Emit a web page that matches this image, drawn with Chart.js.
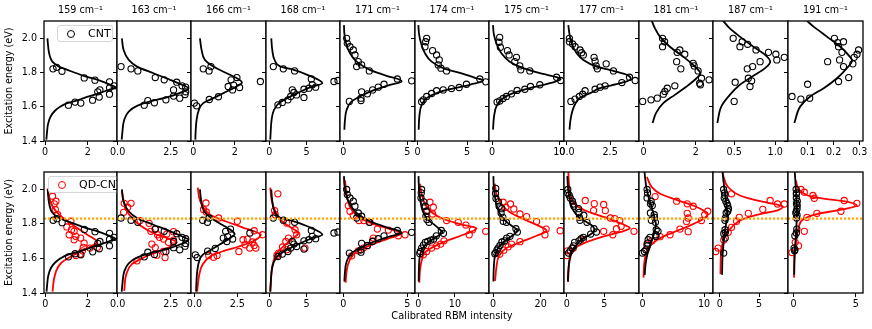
<!DOCTYPE html>
<html>
<head>
<meta charset="utf-8">
<script src="https://cdn.jsdelivr.net/npm/chart.js@4.4.1/dist/chart.umd.min.js"></script>
<style>
  html, body { margin: 0; padding: 0; background: #fff; }
  #fig { position: relative; width: 872px; height: 329px; overflow: hidden; font-family: 'DejaVu Sans', sans-serif; background: #fff; }
  #fig canvas { position: absolute; }
  .ttl { position: absolute; top: 4px; width: 80px; text-align: center; font-size: 9.6px; line-height: 12px; color: #000; z-index: 40; }
  .xlab { position: absolute; top: 310px; left: 352px; width: 200px; text-align: center; font-size: 9.8px; line-height: 12px; color: #000; z-index: 40; }
  .leg { position: absolute; height: 15px; border: 1px solid #d6d6d6; border-radius: 3px; background: rgba(255,255,255,0.85); font-size: 11px; line-height: 15px; color: #000; z-index: 3; }
  .leg .mk { position: absolute; top: 3.5px; left: 8.5px; width: 6px; height: 6px; border: 1px solid; border-radius: 50%; }
  .leg .tx { position: absolute; left: 30px; top: 0; white-space: nowrap; }
</style>
</head>
<body>
<div id="fig"></div>
<script>
// RBM modes (one column each)
const modes = ['159', '163', '166', '168', '171', '174', '175', '177', '181', '187', '191'];

// energy axis (eV)
const yRange = [1.4, 2.1];
const yTicks = [1.4, 1.6, 1.8, 2.0];
const qdLevel = 1.83;

// x ranges and ticks, top row (CNT) and bottom row (QD-CNT)
const topRange = [[-0.05, 3.36], [-0.03, 3.45], [-0.11, 3.5], [-0.44, 9.47], [-0.26, 5.6], [-0.27, 7.21],
                  [-0.45, 10.7], [-0.17, 4.17], [-0.17, 2.66], [0.242, 1.156], [0.0246, 0.313]];
const botRange = [[-0.06, 3.36], [-0.03, 3.45], [-0.2, 4.17], [-0.44, 9.47], [-0.26, 5.6], [-0.9, 19.3],
                  [-1.7, 29.8], [-0.36, 9.6], [-0.58, 11.45], [-0.86, 8.68], [-0.45, 5.57]];
const topTicks = [[0, 2], [0, 2.5], [0, 2], [0, 5], [0, 5], [0, 5], [0, 10], [0, 2.5], [0, 2], [0.5, 1.0], [0.1, 0.2, 0.3]];
const botTicks = [[0, 2], [0, 2.5], [0, 2.5], [0, 5], [0, 5], [0, 10], [0, 20], [0, 5], [0, 10], [0, 5], [0, 5]];

// CNT measured points [intensity, energy]
const cntPts = [
  [[0.37,1.821],[0.54,1.830],[0.79,1.807],[1.83,1.768],[2.33,1.755],[3.01,1.745],[3.22,1.722],[3.01,1.710],[2.56,1.698],[2.46,1.687],[2.53,1.656],[3.01,1.673],[2.22,1.638],[1.67,1.621],[1.40,1.627],[1.09,1.609]],
  [[0.16,1.834],[0.63,1.821],[0.95,1.809],[1.77,1.770],[2.19,1.757],[2.78,1.743],[3.03,1.722],[3.20,1.714],[2.63,1.698],[3.20,1.687],[3.17,1.671],[2.92,1.650],[2.63,1.662],[2.27,1.640],[1.73,1.623],[1.42,1.636],[1.25,1.609]],
  [[0.05,1.621],[0.16,1.605],[0.48,1.821],[0.76,1.809],[0.85,1.834],[0.77,1.642],[1.21,1.658],[1.68,1.718],[1.82,1.757],[1.94,1.726],[2.10,1.770],[2.23,1.712],[1.89,1.698],[3.23,1.747]],
  [[0.54,1.834],[1.88,1.821],[3.39,1.809],[5.63,1.762],[5.76,1.728],[6.21,1.714],[5.31,1.708],[4.64,1.702],[3.08,1.698],[3.30,1.683],[3.66,1.669],[4.64,1.654],[2.86,1.660],[2.50,1.640],[1.75,1.625],[1.16,1.611],[8.66,1.747],[9.20,1.753]],
  [[0.26,1.999],[0.31,1.970],[0.52,1.950],[0.78,1.931],[0.91,1.902],[1.17,1.863],[1.04,1.834],[1.43,1.844],[2.03,1.809],[4.22,1.762],[5.34,1.751],[3.18,1.731],[2.73,1.714],[2.29,1.698],[1.88,1.675],[1.43,1.687],[1.38,1.650],[1.38,1.636],[0.47,1.631]],
  [[0.91,1.999],[0.81,1.979],[0.74,1.950],[1.51,1.927],[1.91,1.902],[2.18,1.873],[2.08,1.844],[2.35,1.825],[2.92,1.809],[6.28,1.762],[6.88,1.745],[4.93,1.731],[4.19,1.712],[3.42,1.706],[2.58,1.698],[1.91,1.693],[1.41,1.677],[0.91,1.660],[0.57,1.640],[0.40,1.629]],
  [[1.14,2.005],[1.04,1.976],[1.24,1.947],[2.29,1.927],[2.54,1.902],[3.63,1.888],[3.38,1.863],[4.13,1.838],[4.28,1.815],[5.62,1.809],[9.60,1.772],[10.2,1.753],[7.11,1.728],[5.72,1.718],[4.88,1.702],[3.73,1.695],[2.89,1.675],[2.14,1.660],[1.64,1.648],[1.14,1.634],[0.75,1.627]],
  [[0.14,1.999],[0.14,1.979],[0.33,1.966],[0.47,1.950],[0.76,1.931],[0.85,1.915],[0.95,1.902],[1.57,1.888],[1.63,1.866],[1.69,1.838],[1.76,1.821],[2.27,1.850],[2.69,1.809],[3.62,1.772],[3.95,1.753],[3.18,1.741],[2.21,1.722],[1.92,1.714],[1.63,1.702],[1.05,1.693],[0.91,1.673],[0.72,1.660],[0.47,1.644],[0.23,1.631]],
  [[0.73,1.999],[0.81,1.979],[0.73,1.950],[1.39,1.931],[1.29,1.917],[1.58,1.906],[1.27,1.863],[1.43,1.821],[1.90,1.853],[1.94,1.838],[2.09,1.809],[2.22,1.766],[2.51,1.757],[2.15,1.737],[2.18,1.728],[1.20,1.722],[0.91,1.708],[0.82,1.689],[0.76,1.673],[0.53,1.650],[0.29,1.640],[-0.03,1.631]],
  [[0.488,1.999],[0.570,1.950],[0.598,1.979],[0.664,1.964],[0.766,1.931],[0.918,1.917],[1.008,1.906],[1.020,1.873],[1.111,1.888],[0.816,1.863],[0.725,1.834],[0.660,1.821],[0.512,1.743],[0.672,1.766],[0.713,1.751],[0.693,1.718],[0.500,1.631]],
  [[0.040,1.660],[0.074,1.644],[0.108,1.650],[0.100,1.731],[0.177,1.863],[0.203,1.999],[0.215,1.974],[0.238,1.979],[0.219,1.950],[0.232,1.917],[0.223,1.873],[0.238,1.834],[0.274,1.850],[0.279,1.888],[0.290,1.906],[0.296,1.931],[0.219,1.747],[0.258,1.770]]
];

// CNT fitted profile, sorted by energy
const cntFit = [
  [[0.06,1.408],[0.09,1.45],[0.14,1.50],[0.26,1.543],[0.45,1.575],[0.70,1.60],[1.04,1.621],[1.50,1.637],[1.81,1.65],[2.43,1.675],[3.05,1.702],[3.29,1.714],[3.05,1.728],[2.59,1.751],[1.81,1.78],[1.04,1.815],[0.65,1.834],[0.34,1.863],[0.19,1.912],[0.11,1.999]],
  [[0.19,1.408],[0.22,1.447],[0.31,1.524],[0.52,1.572],[0.91,1.605],[1.53,1.631],[2.31,1.654],[3.02,1.685],[3.33,1.708],[3.02,1.728],[2.47,1.757],[1.69,1.795],[0.91,1.834],[0.52,1.873],[0.28,1.931],[0.20,1.999]],
  [[0.10,1.408],[0.11,1.447],[0.16,1.524],[0.27,1.582],[0.48,1.621],[0.97,1.650],[1.45,1.679],[2.02,1.714],[2.34,1.741],[2.10,1.766],[1.61,1.795],[0.97,1.834],[0.56,1.873],[0.40,1.931],[0.32,1.999]],
  [[0.13,1.408],[0.18,1.447],[0.31,1.524],[0.63,1.582],[1.29,1.621],[2.41,1.650],[3.75,1.679],[5.54,1.714],[7.10,1.737],[5.09,1.786],[3.30,1.815],[1.52,1.834],[0.71,1.873],[0.40,1.931],[0.27,1.999]],
  [[0.08,1.466],[0.13,1.524],[0.26,1.582],[0.65,1.631],[1.30,1.660],[2.34,1.695],[3.65,1.728],[4.56,1.747],[4.43,1.757],[3.39,1.780],[2.08,1.815],[1.04,1.863],[0.52,1.912],[0.21,1.970],[0.08,2.028],[0.05,2.076]],
  [[0.10,1.466],[0.17,1.543],[0.40,1.611],[0.91,1.650],[1.91,1.679],[3.26,1.702],[5.27,1.728],[6.61,1.753],[5.94,1.766],[4.60,1.791],[2.58,1.825],[1.41,1.863],[0.74,1.912],[0.34,1.970],[0.13,2.028],[0.07,2.076]],
  [[0.15,1.466],[0.30,1.543],[0.75,1.611],[1.64,1.650],[3.13,1.679],[5.62,1.708],[8.61,1.737],[10.2,1.760],[9.60,1.772],[7.61,1.791],[4.63,1.825],[2.64,1.863],[1.39,1.912],[0.65,1.970],[0.25,2.028],[0.15,2.076]],
  [[0.15,1.466],[0.20,1.52],[0.33,1.58],[0.50,1.62],[0.72,1.650],[1.34,1.679],[1.92,1.708],[3.08,1.737],[3.70,1.762],[3.47,1.786],[2.69,1.809],[1.72,1.834],[0.95,1.873],[0.56,1.912],[0.27,1.970],[0.14,2.028],[0.08,2.076]],
  [[0.35,1.505],[0.48,1.563],[0.76,1.621],[1.20,1.669],[1.65,1.718],[2.03,1.766],[2.18,1.795],[2.13,1.809],[1.90,1.844],[1.52,1.892],[1.01,1.950],[0.63,2.009],[0.44,2.057],[0.32,2.101]],
  [[0.295,1.505],[0.344,1.602],[0.447,1.669],[0.570,1.728],[0.734,1.780],[0.877,1.825],[0.939,1.863],[0.877,1.902],[0.734,1.950],[0.570,2.009],[0.447,2.057],[0.365,2.101]],
  [[0.049,1.505],[0.072,1.602],[0.110,1.660],[0.162,1.708],[0.213,1.766],[0.251,1.825],[0.271,1.869],[0.262,1.892],[0.226,1.950],[0.174,2.009],[0.123,2.067],[0.097,2.101]]
];

// QD-CNT measured points [intensity, energy]
const qdPts = [
  [[0.50,1.931],[0.42,1.916],[0.34,1.960],[0.47,1.883],[0.58,1.853],[1.20,1.815],[1.01,1.782],[1.23,1.766],[1.35,1.757],[1.12,1.737],[1.43,1.728],[1.66,1.718],[1.35,1.708],[1.82,1.689],[1.78,1.664],[1.74,1.644],[2.09,1.660],[2.44,1.664],[1.43,1.617],[1.63,1.625]],
  [[0.31,1.919],[0.47,1.896],[0.63,1.919],[0.28,1.867],[1.06,1.819],[1.48,1.803],[1.56,1.757],[1.77,1.770],[1.88,1.737],[1.97,1.722],[2.16,1.712],[2.31,1.741],[2.63,1.755],[2.39,1.693],[2.63,1.706],[1.77,1.663],[2.16,1.640],[2.23,1.605],[1.84,1.619],[0.91,1.586],[1.61,1.683]],
  [[0.67,1.921],[0.53,1.883],[0.69,1.869],[1.41,1.834],[2.50,1.815],[3.48,1.760],[3.97,1.737],[2.83,1.708],[3.08,1.712],[3.38,1.695],[3.48,1.675],[3.58,1.660],[3.22,1.660],[2.59,1.640],[2.95,1.679],[0.83,1.617],[1.12,1.607],[1.32,1.617]],
  [[1.15,1.974],[0.71,1.877],[0.80,1.853],[2.35,1.805],[3.45,1.766],[3.67,1.737],[2.57,1.718],[2.21,1.698],[1.77,1.666],[2.35,1.650],[1.24,1.631],[4.78,1.660],[1.02,1.617]],
  [[0.39,1.906],[0.52,1.873],[0.78,1.848],[1.22,1.819],[1.61,1.819],[2.08,1.809],[2.66,1.770],[3.52,1.764],[4.30,1.731],[4.82,1.737],[2.34,1.718],[2.29,1.702],[1.88,1.673],[1.56,1.660],[1.17,1.644],[0.65,1.615]],
  [[3.18,1.925],[4.09,1.896],[2.45,1.877],[3.91,1.857],[7.73,1.819],[10.9,1.809],[13.0,1.793],[14.8,1.766],[18.4,1.757],[13.9,1.737],[7.0,1.702],[6.09,1.683],[5.0,1.673],[3.64,1.660],[2.27,1.640],[1.36,1.621]],
  [[4.23,1.925],[7.32,1.915],[5.35,1.896],[8.73,1.886],[11.3,1.857],[14.1,1.842],[18.3,1.813],[22.3,1.770],[21.8,1.737],[11.3,1.697],[7.75,1.683],[6.34,1.667],[4.51,1.648],[2.82,1.625],[28.2,1.760]],
  [[2.46,1.935],[3.66,1.917],[4.91,1.912],[5.13,1.877],[3.57,1.877],[5.80,1.834],[6.38,1.830],[7.05,1.819],[7.23,1.786],[6.61,1.772],[4.91,1.757],[6.12,1.737],[8.93,1.757],[2.23,1.708],[0.89,1.660],[0.09,1.644],[0.0,1.617]],
  [[2.04,1.958],[5.54,1.931],[7.26,1.916],[8.23,1.902],[10.6,1.873],[10.1,1.853],[7.26,1.861],[7.42,1.834],[7.15,1.813],[9.57,1.819],[6.08,1.770],[7.42,1.755],[4.46,1.737],[2.85,1.726],[1.51,1.702],[0.70,1.683]],
  [[1.50,1.974],[6.41,1.935],[7.35,1.915],[8.21,1.915],[5.47,1.884],[3.63,1.861],[2.48,1.838],[2.14,1.815],[1.50,1.780],[1.07,1.751],[0.51,1.706],[-0.21,1.660],[-0.51,1.640]],
  [[0.59,1.999],[0.86,1.983],[1.55,1.964],[1.66,1.948],[4.06,1.935],[5.08,1.919],[3.80,1.873],[1.87,1.861],[1.07,1.838],[0.86,1.757],[0.13,1.693],[0.40,1.673],[-0.13,1.634]]
];

// QD-CNT fitted profile, sorted by energy
const qdFit = [
  [[0.34,1.408],[0.39,1.466],[0.50,1.524],[0.73,1.572],[1.20,1.611],[1.66,1.640],[2.13,1.669],[2.44,1.698],[2.28,1.714],[1.97,1.737],[1.50,1.776],[1.04,1.815],[0.65,1.853],[0.34,1.902],[0.19,1.950],[0.11,2.005]],
  [[0.31,1.412],[0.41,1.509],[0.67,1.567],[1.22,1.605],[2.00,1.644],[2.78,1.693],[2.40,1.715],[1.84,1.737],[1.06,1.790],[0.52,1.857],[0.31,1.915],[0.20,1.989]],
  [[0.16,1.408],[0.28,1.505],[0.47,1.563],[0.92,1.611],[1.61,1.640],[2.59,1.669],[3.38,1.698],[3.87,1.737],[3.48,1.757],[2.79,1.780],[1.81,1.815],[0.92,1.853],[0.47,1.902],[0.28,1.950],[0.20,2.009]],
  [[0.13,1.408],[0.22,1.466],[0.44,1.563],[1.02,1.631],[2.12,1.679],[3.23,1.718],[3.89,1.747],[3.00,1.776],[1.68,1.815],[0.80,1.873],[0.35,1.931],[0.13,2.009]],
  [[0.18,1.460],[0.26,1.528],[0.47,1.586],[1.04,1.640],[2.34,1.683],[3.65,1.718],[4.56,1.745],[3.65,1.770],[2.34,1.799],[1.04,1.848],[0.47,1.906],[0.26,1.974],[0.13,2.051]],
  [[0.27,1.460],[0.45,1.528],[0.91,1.586],[1.82,1.634],[4.09,1.667],[7.73,1.702],[12.3,1.737],[15.9,1.774],[11.4,1.799],[6.82,1.828],[3.64,1.867],[1.82,1.915],[0.91,1.974],[0.45,2.032]],
  [[0.85,1.470],[1.41,1.547],[2.54,1.615],[5.63,1.660],[11.3,1.693],[18.3,1.731],[22.5,1.760],[19.0,1.790],[12.7,1.828],[7.04,1.867],[3.52,1.915],[1.41,1.974],[0.70,2.032]],
  [[0.18,1.466],[0.22,1.505],[0.45,1.600],[1.12,1.660],[2.68,1.695],[4.91,1.728],[7.14,1.753],[8.39,1.776],[7.59,1.795],[5.36,1.834],[2.68,1.873],[1.12,1.912],[0.50,1.960],[0.30,2.030],[0.22,2.100]],
  [[0.16,1.489],[0.32,1.586],[0.97,1.660],[2.58,1.712],[5.00,1.751],[7.69,1.790],[9.84,1.828],[10.6,1.857],[10.1,1.873],[8.23,1.906],[5.54,1.939],[2.85,1.974],[1.51,2.012],[0.70,2.071]],
  [[0.09,1.509],[0.13,1.605],[0.34,1.683],[0.85,1.741],[1.71,1.790],[2.99,1.828],[5.13,1.857],[7.26,1.877],[8.03,1.900],[7.26,1.912],[5.13,1.931],[2.56,1.964],[1.07,2.012],[0.34,2.094]],
  [[0.03,1.489],[0.08,1.625],[0.19,1.702],[0.40,1.780],[0.80,1.828],[1.87,1.857],[3.74,1.881],[5.08,1.906],[4.01,1.931],[1.60,1.954],[0.67,1.983],[0.32,2.012],[0.19,2.051]]
];

Chart.defaults.font.family = "'DejaVu Sans', sans-serif";
Chart.defaults.font.size = 9.6;
Chart.defaults.color = '#000';

const fig = document.getElementById('fig');
const colLeft = [44, 117, 191, 266, 340, 415, 489, 564, 639, 713, 788, 863];

const toXY = arr => arr.map(p => ({ x: p[0], y: p[1] }));
const fmtFor = ticks => {
  const dec = ticks.some(v => !Number.isInteger(v)) ? 1 : 0;
  return v => Number(v).toFixed(dec);
};

// white plot area + full box like matplotlib spines
const frame = {
  id: 'frame',
  beforeDraw(chart) {
    const a = chart.chartArea, ctx = chart.ctx;
    ctx.save();
    ctx.fillStyle = '#fff';
    ctx.fillRect(a.left, a.top, a.right - a.left, a.bottom - a.top);
    ctx.restore();
  },
  afterDatasetsDraw(chart) {
    const a = chart.chartArea, ctx = chart.ctx;
    ctx.save();
    ctx.strokeStyle = '#000';
    ctx.lineWidth = 1.3;
    ctx.strokeRect(a.left, a.top, a.right - a.left, a.bottom - a.top);
    ctx.restore();
  }
};

function pointsDs(pts, col) {
  return {
    type: 'scatter', data: toXY(pts), showLine: false, clip: 0,
    pointStyle: 'circle', pointRadius: 3.1, pointBorderWidth: 1.1,
    pointBorderColor: col, pointBackgroundColor: 'rgba(255,255,255,0)', borderColor: col
  };
}

function curveDs(pts, col) {
  return {
    type: 'line', indexAxis: 'y', data: toXY(pts), clip: 0,
    borderColor: col, borderWidth: 1.8, pointRadius: 0, fill: false,
    cubicInterpolationMode: 'monotone'
  };
}

function makePanel(row, c) {
  const isTop = row === 0;
  const plotTop = isTop ? 21 : 172;
  const plotH = isTop ? 120 : 121;
  const axisH = isTop ? 22 : 36;
  const padTop = 10, padRight = 18, yAxisW = 44;
  const w = colLeft[c + 1] - colLeft[c];
  const range = isTop ? topRange[c] : botRange[c];
  const ticks = isTop ? topTicks[c] : botTicks[c];

  const cv = document.createElement('canvas');
  cv.width = w + yAxisW + padRight;
  cv.height = padTop + plotH + axisH;
  cv.style.width = cv.width + 'px';
  cv.style.height = cv.height + 'px';
  cv.style.left = (colLeft[c] - yAxisW) + 'px';
  cv.style.top = (plotTop - padTop) + 'px';
  cv.style.zIndex = 2 + 2 * c;
  fig.appendChild(cv);

  const datasets = [];
  if (!isTop) {
    datasets.push({
      type: 'line', data: [{ x: range[0], y: qdLevel }, { x: range[1], y: qdLevel }], clip: 0,
      borderColor: '#ffa500', borderWidth: 2.2, borderDash: [2.2, 1.8], pointRadius: 0, fill: false
    });
  }
  datasets.push(pointsDs(cntPts[c], '#000'));
  datasets.push(curveDs(cntFit[c], '#000'));
  if (!isTop) {
    datasets.push(pointsDs(qdPts[c], '#ff0000'));
    datasets.push(curveDs(qdFit[c], '#ff0000'));
  }

  const fmt = fmtFor(ticks);
  new Chart(cv, {
    type: 'scatter',
    data: { datasets },
    options: {
      responsive: false,
      animation: false,
      events: [],
      layout: { padding: { top: padTop, right: padRight, left: 0, bottom: 0 } },
      plugins: { legend: { display: false }, tooltip: { enabled: false } },
      scales: {
        x: {
          type: 'linear', min: range[0], max: range[1],
          afterBuildTicks: s => { s.ticks = ticks.map(v => ({ value: v })); },
          afterFit: s => { s.height = axisH; },
          ticks: { callback: v => fmt(v), padding: 1.5, maxRotation: 0, autoSkip: false },
          grid: { drawOnChartArea: false, drawTicks: true, tickLength: 4, tickColor: '#000', tickWidth: 1 },
          border: { display: false }
        },
        y: {
          type: 'linear', min: yRange[0], max: yRange[1],
          afterBuildTicks: s => { s.ticks = yTicks.map(v => ({ value: v })); },
          afterFit: s => { s.width = yAxisW; },
          ticks: { display: c === 0, callback: v => Number(v).toFixed(1), padding: 3 },
          grid: { drawOnChartArea: false, drawTicks: true, tickLength: 4, tickColor: '#000', tickWidth: 1 },
          border: { display: false },
          title: { display: c === 0, text: 'Excitation energy (eV)', padding: { top: 4, bottom: 4 } }
        }
      }
    },
    plugins: [frame]
  });
}

for (let c = 0; c < modes.length; c++) {
  makePanel(0, c);
  makePanel(1, c);
  const t = document.createElement('div');
  t.className = 'ttl';
  t.textContent = modes[c] + ' cm\u207B\u00B9';
  t.style.left = ((colLeft[c] + colLeft[c + 1]) / 2 - 40) + 'px';
  fig.appendChild(t);
}

const xl = document.createElement('div');
xl.className = 'xlab';
xl.textContent = 'Calibrated RBM intensity';
fig.appendChild(xl);

function legend(label, col, left, top, width) {
  const d = document.createElement('div');
  d.className = 'leg';
  d.style.left = left + 'px';
  d.style.top = top + 'px';
  d.style.width = width + 'px';
  const mk = document.createElement('span');
  mk.className = 'mk';
  mk.style.borderColor = col;
  const tx = document.createElement('span');
  tx.className = 'tx';
  tx.textContent = label;
  d.appendChild(mk);
  d.appendChild(tx);
  fig.appendChild(d);
}
legend('CNT', '#000', 57, 25, 54);
legend('QD-CNT', '#ff0000', 48, 176, 80);
</script>
</body>
</html>
